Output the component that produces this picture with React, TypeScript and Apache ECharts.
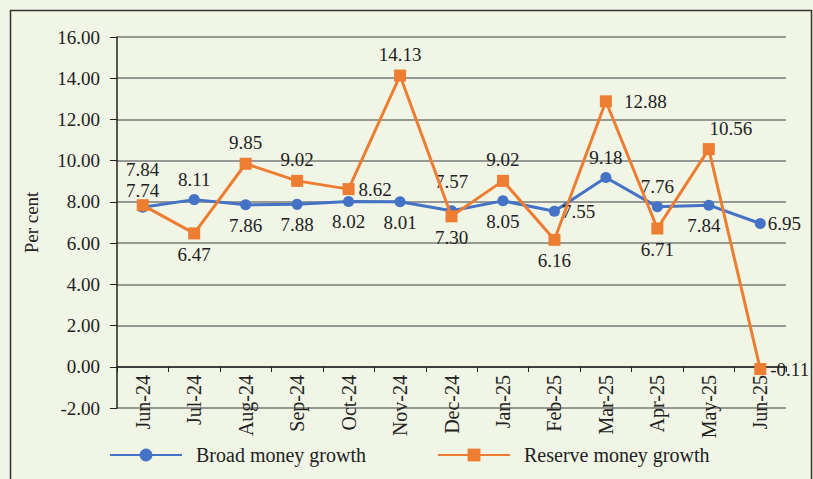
import React, { useEffect, useRef } from "react";
import * as echarts from "echarts";

const categories = ["Jun-24","Jul-24","Aug-24","Sep-24","Oct-24","Nov-24","Dec-24","Jan-25","Feb-25","Mar-25","Apr-25","May-25","Jun-25"];
const broadMoney = [7.74, 8.11, 7.86, 7.88, 8.02, 8.01, 7.57, 8.05, 7.55, 9.18, 7.76, 7.84, 6.95];
const reserveMoney = [7.84, 6.47, 9.85, 9.02, 8.62, 14.13, 7.30, 9.02, 6.16, 12.88, 6.71, 10.56, -0.11];

// label placement per point
const broadLabelPos = ["top","top","bottom","bottom","bottom","bottom","top","bottom","right","top","top","bottom","right"];
const reserveLabelPos = ["top","bottom","top","top","right","top","bottom","top","bottom","right","bottom","top","right"];

const FONT = "'Liberation Serif', 'Times New Roman', serif";

export default function App() {
  const ref = useRef<HTMLDivElement>(null);
  useEffect(() => {
    document.body.style.margin = "0";
    const chart = echarts.init(ref.current!, null, { renderer: "svg" });
    const labelBase = { show: true, color: "#222", fontFamily: FONT, fontSize: 19, lineHeight: 16, formatter: (p: any) => Number(p.value).toFixed(2) };
    const broadData = broadMoney.map((v, i) => {
      const pos = broadLabelPos[i];
      const lab: any = { position: pos, distance: 7 };
      if (i === 0) lab.distance = 3;
      if (i === 6) lab.distance = 16;
      if (i === 11) lab.offset = [-5, 0];
      if (pos === "right") lab.distance = 2;
      return { value: v, label: lab };
    });
    const reserveData = reserveMoney.map((v, i) => {
      const pos = reserveLabelPos[i];
      const lab: any = { position: pos, distance: 7 };
      if (i === 0) lab.distance = 22;
      if (i === 11) lab.offset = [22, 0];
      if (pos === "right") lab.distance = i === 9 ? 12 : 4;
      return { value: v, label: lab };
    });
    const legendText = { fontFamily: FONT, fontSize: 20, color: "#222", padding: [0, 0, 0, 9] };
    chart.setOption({
      animation: false,
      backgroundColor: "#f0f5e6",
      textStyle: { fontFamily: FONT },
      grid: { left: 117, top: 37, right: 27, bottom: 71 },
      graphic: [
        { type: "rect", shape: { x: 10.5, y: 10.5, width: 801, height: 520 }, style: { fill: "none", stroke: "#333", lineWidth: 1.5 }, silent: true },
      ],
      legend: [
        { data: ["Broad money growth"], left: 104, top: 440, itemWidth: 72, itemHeight: 16, textStyle: legendText },
        { data: ["Reserve money growth"], left: 432, top: 440, itemWidth: 72, itemHeight: 16, textStyle: legendText },
      ],
      xAxis: {
        type: "category",
        data: categories,
        boundaryGap: true,
        offset: -41,
        axisLine: { onZero: false, lineStyle: { color: "#222", width: 1.5 } },
        axisTick: { show: true, length: 5, lineStyle: { color: "#222" } },
        axisLabel: { rotate: 90, margin: 8, color: "#222", fontFamily: FONT, fontSize: 20, interval: 0 },
      },
      yAxis: {
        type: "value",
        min: -2,
        max: 16,
        interval: 2,
        name: "Per cent",
        nameLocation: "middle",
        nameGap: 76,
        nameTextStyle: { fontFamily: FONT, fontSize: 19, color: "#222" },
        axisLine: { show: true, lineStyle: { color: "#222", width: 1.5 } },
        axisTick: { show: true, length: 7, lineStyle: { color: "#222" } },
        axisLabel: { color: "#222", fontFamily: FONT, fontSize: 19, margin: 17, formatter: (v: number) => v.toFixed(2) },
        splitLine: { lineStyle: { color: "#7a7a7a", width: 1.5 } },
      },
      series: [
        {
          name: "Broad money growth",
          type: "line",
          data: broadData,
          symbol: "circle",
          symbolSize: 11,
          itemStyle: { color: "#4472C4" },
          lineStyle: { color: "#4472C4", width: 3 },
          label: labelBase,
          z: 3,
        },
        {
          name: "Reserve money growth",
          type: "line",
          data: reserveData,
          symbol: "rect",
          symbolSize: 12,
          itemStyle: { color: "#ED7D31" },
          lineStyle: { color: "#ED7D31", width: 3 },
          label: labelBase,
          z: 4,
        },
      ],
    });
    return () => chart.dispose();
  }, []);
  return <div ref={ref} style={{ width: 813, height: 479 }} />;
}
